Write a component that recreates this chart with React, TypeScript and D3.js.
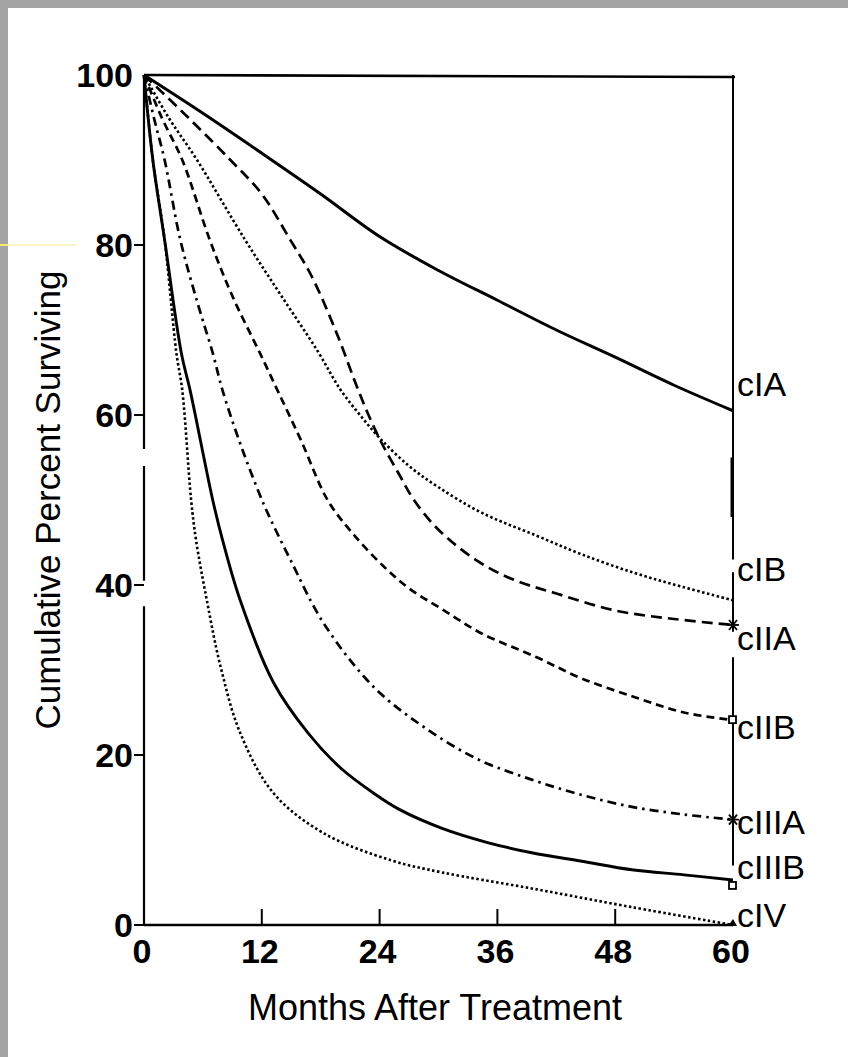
import React from 'react'
import * as d3 from 'd3'

// survival curves (months, cumulative % surviving)
const months_cIA = [0, 6, 12, 18, 24, 30, 36, 42, 48, 54, 60]
const pct_cIA = [100, 95.5, 90.8, 86, 81, 77, 73.5, 70, 66.8, 63.5, 60.5]

const months_cIB = [0, 2.5, 5.4, 10.3, 14, 17.7, 20, 22, 24, 27, 30, 34.4, 40, 44.6, 50, 54.8, 60]
const pct_cIB = [100, 95, 90, 80.6, 74, 67.5, 63, 60, 57.3, 54, 51.5, 48.5, 45.8, 43.6, 41.4, 39.8, 38.2]

const months_cIIA = [0, 4.5, 8.8, 12, 14.9, 17, 19.5, 21.8, 23.1, 24.3, 26, 27.5, 30, 34, 37.7, 42, 48, 54, 60]
const pct_cIIA = [100, 95, 90, 86, 80.6, 76.5, 70, 63, 59.4, 56.5, 53, 50, 46.5, 42.8, 40.6, 39, 37, 36, 35.3]

const months_cIIB = [0, 1.8, 3.9, 6.7, 9, 11.8, 13.6, 16, 18.7, 21.3, 24.4, 27, 30.3, 34.4, 40, 44.6, 50, 55, 60]
const pct_cIIB = [100, 95, 90, 80.6, 74, 67.3, 62.9, 57, 50, 46, 42.2, 39.6, 37.2, 34.3, 31.5, 29, 26.8, 25, 24.1]

const months_cIIIA = [0, 1, 2.1, 3.7, 5.5, 7, 8, 10, 12.2, 13.4, 14.9, 18.3, 23.4, 28.5, 34, 39.5, 44.6, 49.7, 55, 60]
const pct_cIIIA = [100, 95, 90, 80.6, 73, 67.3, 62.9, 56, 49.5, 46.5, 43, 35.5, 28, 23.3, 19.5, 17.1, 15.3, 13.9, 13, 12.4]

const months_cIIIB = [0, 0.9, 2.1, 3.8, 4.7, 7, 8, 9.8, 13.2, 16.7, 20, 23.4, 26, 30.3, 35, 39.5, 44.6, 49.7, 55, 60]
const pct_cIIIB = [100, 90, 80.6, 67.3, 62.9, 50, 45.3, 38.2, 28.5, 22.6, 18.5, 15.5, 13.6, 11.4, 9.7, 8.5, 7.5, 6.5, 5.9, 5.3]

const months_cIV = [0, 0.9, 2.1, 3.3, 3.9, 4.8, 5.3, 6.4, 7.8, 9.8, 13.2, 18.3, 25.2, 30.3, 39.5, 49.7, 60]
const pct_cIV = [100, 90, 80.6, 67.3, 62.9, 50, 45.3, 38.2, 30.4, 22.6, 15.5, 10.8, 7.6, 6.2, 4.3, 2.1, 0]

const seriesNames = ['cIA', 'cIB', 'cIIA', 'cIIB', 'cIIIA', 'cIIIB', 'cIV']
const seriesMonths = [months_cIA, months_cIB, months_cIIA, months_cIIB, months_cIIIA, months_cIIIB, months_cIV]
const seriesPct = [pct_cIA, pct_cIB, pct_cIIA, pct_cIIB, pct_cIIIA, pct_cIIIB, pct_cIV]
// where the curve label sits (percent level on the right edge)
const labelLevels = [63.7, 41.9, 33.8, 23.3, 12.2, 6.9, 1.2]

const xTicks = [0, 12, 24, 36, 48, 60]
const yTicks = [0, 20, 40, 60, 80, 100]

const styles = [
  { w: 3, dash: null },
  { w: 2.6, dash: '2.5,2.5' },
  { w: 2.7, dash: '11,6' },
  { w: 2.7, dash: '8,5' },
  { w: 2.7, dash: '9,5,2.5,5' },
  { w: 2.9, dash: null },
  { w: 2.6, dash: '2.5,2.5' },
]

const App = () => {
  const W = 848, H = 1057
  const x = d3.scaleLinear().domain([0, 60]).range([144, 733])
  const y = d3.scaleLinear().domain([0, 100]).range([925, 75])
  const line = d3.line<[number, number]>()
    .x(d => x(d[0]))
    .y(d => y(d[1]))
    .curve(d3.curveCatmullRom.alpha(0.5))

  const font = '"Liberation Sans", Arial, sans-serif'

  // the scanned axes are broken in places
  const leftSegs = [[100, 56], [54, 40.5], [37.5, 0]]
  const rightSegs = [[100, 43], [41.5, 34.5], [31.5, 7]]

  const star = (cx: number, cy: number) => (
    <g stroke="black" strokeWidth={1.8}>
      <line x1={cx - 6} y1={cy} x2={cx + 6} y2={cy} />
      <line x1={cx - 4} y1={cy - 5} x2={cx + 4} y2={cy + 5} />
      <line x1={cx - 4} y1={cy + 5} x2={cx + 4} y2={cy - 5} />
    </g>
  )

  return (
    <svg width={W} height={H} style={{ position: 'absolute', left: 0, top: 0 }}>
      <rect x={0} y={0} width={W} height={H} fill="#a4a4a4" />
      <rect x={8} y={8} width={W - 8} height={H - 8} fill="white" />
      <line x1={0} y1={245} x2={8} y2={245} stroke="#f2ee6a" strokeWidth={2} />
      <line x1={8} y1={245} x2={76} y2={245} stroke="#f6f3b0" strokeWidth={1.5} />

      {/* frame */}
      <line x1={x(0)} y1={y(100)} x2={x(60) + 2} y2={y(100) + 2} stroke="black" strokeWidth={2.6} />
      <line x1={x(0)} y1={y(0)} x2={x(60)} y2={y(0)} stroke="black" strokeWidth={2.6} />
      {leftSegs.map((s, i) => (
        <line key={'l' + i} x1={x(0)} y1={y(s[0])} x2={x(0)} y2={y(s[1])} stroke="black" strokeWidth={2.2} />
      ))}
      {rightSegs.map((s, i) => (
        <line key={'r' + i} x1={x(60)} y1={y(s[0])} x2={x(60)} y2={y(s[1])} stroke="black" strokeWidth={2} />
      ))}
      <line x1={x(60) - 1} y1={y(55)} x2={x(60) - 1} y2={y(48)} stroke="black" strokeWidth={3} />

      {/* ticks */}
      {yTicks.filter(t => t < 100).map(t => (
        <line key={'yt' + t} x1={x(0) - 10} y1={y(t)} x2={x(0)} y2={y(t)} stroke="black" strokeWidth={2} />
      ))}
      {xTicks.filter(t => t > 0 && t < 60).map(t => (
        <line key={'xt' + t} x1={x(t)} y1={y(0)} x2={x(t)} y2={y(0) - 16} stroke="black" strokeWidth={2} />
      ))}

      {/* tick labels */}
      {yTicks.map(t => (
        <text key={'yl' + t} x={x(0) - 11} y={y(t)} dy="0.36em" textAnchor="end"
          fontFamily={font} fontWeight="bold" fontSize={34}>{t}</text>
      ))}
      {xTicks.map(t => (
        <text key={'xl' + t} x={x(t) - 2} y={963} textAnchor="middle"
          fontFamily={font} fontWeight="bold" fontSize={34}>{t}</text>
      ))}

      {/* curves */}
      {seriesNames.map((n, i) => {
        const pts = seriesMonths[i].map((m, j) => [m, seriesPct[i][j]] as [number, number])
        return (
          <path key={n} d={line(pts) || ''} fill="none" stroke="black"
            strokeWidth={styles[i].w} strokeDasharray={styles[i].dash || undefined} />
        )
      })}

      {/* end markers */}
      {star(x(60), y(pct_cIIA[pct_cIIA.length - 1]))}
      <rect x={x(60) - 4} y={y(pct_cIIB[pct_cIIB.length - 1]) - 4} width={7} height={7} fill="white" stroke="black" strokeWidth={1.8} />
      {star(x(60), y(pct_cIIIA[pct_cIIIA.length - 1]))}
      <rect x={x(60) - 4} y={y(pct_cIIIB[pct_cIIIB.length - 1]) + 2} width={7} height={7} fill="white" stroke="black" strokeWidth={1.8} />
      <path d={`M${x(60) - 5},${y(0) + 1}L${x(60)},${y(0) - 6}L${x(60) + 4},${y(0) + 1}Z`} fill="black" />

      {/* curve labels */}
      {seriesNames.map((n, i) => (
        <text key={'n' + n} x={x(60) + 4} y={y(labelLevels[i])} dy="0.36em"
          fontFamily={font} fontSize={34}>{n}</text>
      ))}

      {/* axis titles */}
      <text x={435} y={1020} textAnchor="middle" fontFamily={font} fontSize={36}>Months After Treatment</text>
      <text transform={`translate(60,500) rotate(-90)`} textAnchor="middle"
        fontFamily={font} fontSize={35}>Cumulative Percent Surviving</text>
    </svg>
  )
}

export default App
